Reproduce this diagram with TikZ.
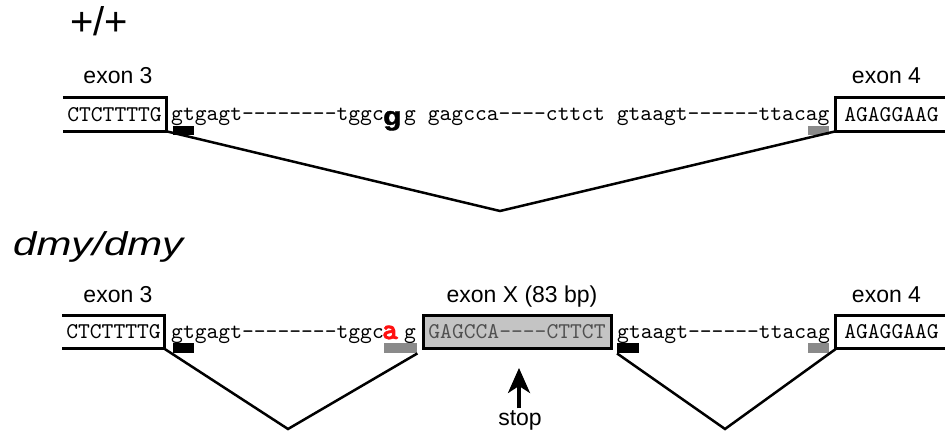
\documentclass[tikz,border=0pt]{standalone}
\usepackage{fontspec}
\setmainfont{Liberation Sans}
\setmonofont{lmmono10-regular.otf}
\newfontfamily\ttheavy{lmmonolt10-bold.otf}[FakeBold=2.5]
\newfontfamily\heavysans{Liberation Sans Bold}[FakeBold=1.5]
\usetikzlibrary{arrows.meta}
\definecolor{bargray}{HTML}{8A8A8A}
\definecolor{exxfill}{HTML}{C4C4C4}
\definecolor{exxtext}{HTML}{505050}
\definecolor{mutred}{HTML}{FF1010}
\begin{document}
\begin{tikzpicture}[x=1pt,y=-1pt,
  seq/.style={font=\ttfamily\fontsize{22.5}{23}\selectfont, inner sep=0pt, anchor=base west},
  lbl/.style={font=\fontsize{23}{24}\selectfont, inner sep=0pt, anchor=base},
  geno/.style={font=\fontsize{40}{42}\selectfont, inner sep=0pt, anchor=base west},
  exbox/.style={font=\ttfamily\fontsize{22.5}{23}\selectfont, inner sep=0pt, anchor=center, minimum height=33.5pt},
  boxline/.style={line width=3pt, line join=miter},
  splice/.style={line width=2.5pt, line join=miter},
  donor/.style={fill=black, inner sep=0pt, anchor=north west},
  acceptor/.style={fill=bargray, inner sep=0pt, anchor=north west},
  stoparrow/.style={line width=3.5pt, -{Stealth[length=25pt,width=22pt,inset=7pt]}}
]
\useasboundingbox (0,0) rectangle (945,436);

% ---------- wild type ----------
\node[geno] (wt) at (70,36) {+/+};
\node[lbl] (lx3a) at (118,83) {exon 3};
\node[lbl] (lx4a) at (886.5,83) {exon 4};

\node[exbox, minimum width=103pt] (e3a) at (114.5,114.3) {CTCTTTTG\hspace{6pt}};
\draw[boxline] (e3a.north west) -- (e3a.north east) -- (e3a.south east) -- (e3a.south west);
\node[exbox, minimum width=111pt] (e4a) at (891.5,114.3) {AGAGGAAG\hspace{5pt}};
\draw[boxline] (e4a.north east) -- (e4a.north west) -- (e4a.south west) -- (e4a.south east);

\node[seq] (in3a) at (171,121) {gtgagt--------tggc};
\node[inner sep=0pt, anchor=base west, font=\heavysans\fontsize{26}{26}\selectfont] (snp) at (383,125) {\scalebox{1.15}[1]{g}};
\node[seq] (resta) at (404,121) {g gagcca----cttct gtaagt------ttacag};

\node[donor, minimum width=21pt, minimum height=9pt] (d3a) at (173,126) {};
\node[acceptor, minimum width=21pt, minimum height=9pt] (a4a) at (808,126) {};

\coordinate (vtop) at (500,211);
\draw[splice] (e3a.south east) -- (vtop) -- (e4a.south west);

% ---------- dmy/dmy ----------
\node[geno, font=\itshape\fontsize{33}{35}\selectfont] (dmy) at (13,255) {\scalebox{1.27}[1]{dmy/dmy}};
\node[lbl] (lx3b) at (118,302) {exon 3};
\node[lbl] (lxX) at (522,302) {exon X (83 bp)};
\node[lbl] (lx4b) at (886.5,302) {exon 4};

\node[exbox, minimum width=102pt] (e3b) at (113.5,332) {CTCTTTTG\hspace{6pt}};
\draw[boxline] (e3b.north west) -- (e3b.north east) -- (e3b.south east) -- (e3b.south west);
\node[exbox, minimum width=111pt] (e4b) at (891.5,332) {AGAGGAAG\hspace{5pt}};
\draw[boxline] (e4b.north east) -- (e4b.north west) -- (e4b.south west) -- (e4b.south east);
\node[exbox, minimum width=188pt, minimum height=33pt, fill=exxfill, draw=black, line width=3pt, text=exxtext] (exX) at (517,331.5) {GAGCCA----CTTCT};

\node[seq] (in3b) at (171,338) {gtgagt--------tggc};
\node[inner sep=0pt, anchor=base west, text=mutred, font=\ttheavy\fontsize{30}{30}\selectfont] (mut) at (382,339) {a};
\node[seq] (gb) at (404,338) {g};
\node[seq] (in4b) at (617,338) {gtaagt------ttacag};

\node[donor, minimum width=21pt, minimum height=10pt] (d3b) at (173,343) {};
\node[acceptor, minimum width=33pt, minimum height=10pt] (axb) at (384,343) {};
\node[donor, minimum width=22pt, minimum height=10pt] (dxb) at (617,343) {};
\node[acceptor, minimum width=21pt, minimum height=10pt] (a4b) at (808,343) {};

\coordinate (vleft) at (288,429);
\coordinate (vright) at (725,429);
\draw[splice] (e3b.south east) -- (vleft) -- (axb.south east);
\draw[splice] (dxb.south west) -- (vright) -- (e4b.south west);

\node[lbl] (stop) at (520,425) {stop};
\coordinate (stoptip) at (519,368);
\draw[stoparrow] ([yshift=1.5pt]stop.north -| stoptip) -- (stoptip);
\end{tikzpicture}
\end{document}
